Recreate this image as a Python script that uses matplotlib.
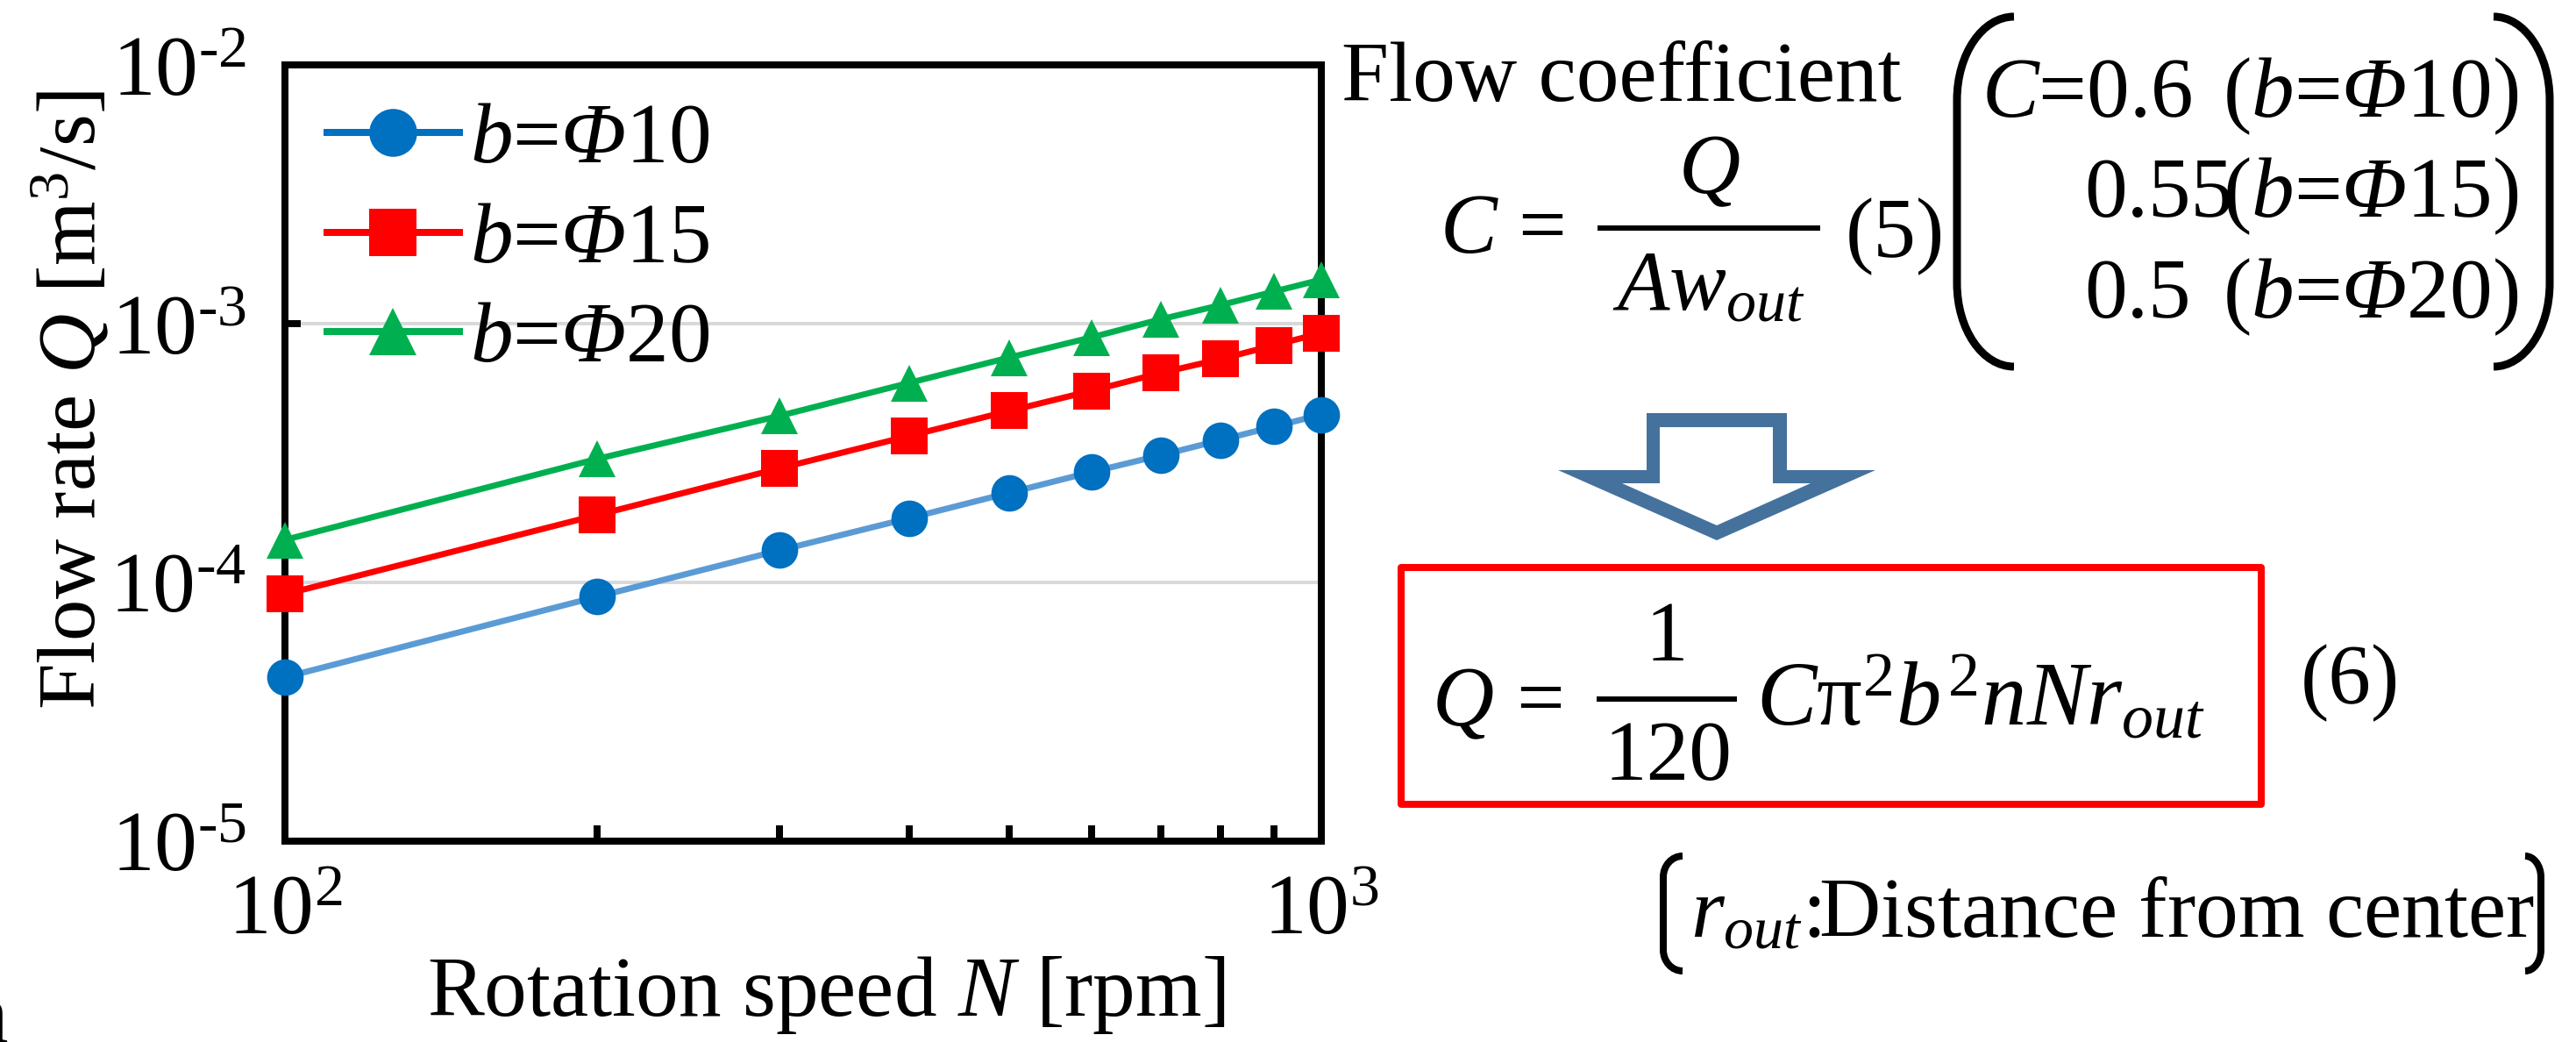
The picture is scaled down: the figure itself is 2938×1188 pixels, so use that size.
import matplotlib
matplotlib.use("Agg")
import math
import matplotlib.pyplot as plt
from matplotlib.path import Path
from matplotlib.patches import PathPatch, Rectangle
from matplotlib.ticker import LogLocator, NullLocator, NullFormatter, FuncFormatter

# ---------------- data ----------------
rotation_speed = [100, 200, 300, 400, 500, 600, 700, 800, 900, 1000]
q_phi10 = [4.3e-5, 8.8e-5, 1.33e-4, 1.77e-4, 2.22e-4, 2.67e-4, 3.10e-4, 3.55e-4, 4.00e-4, 4.45e-4]
q_phi15 = [9.0e-5, 1.82e-4, 2.76e-4, 3.68e-4, 4.60e-4, 5.50e-4, 6.45e-4, 7.30e-4, 8.25e-4, 9.20e-4]
q_phi20 = [1.46e-4, 3.00e-4, 4.40e-4, 5.90e-4, 7.40e-4, 8.85e-4, 1.04e-3, 1.18e-3, 1.33e-3, 1.48e-3]
series_labels = [r"$b$=$\mathsf{\Phi}$10", r"$b$=$\mathsf{\Phi}$15", r"$b$=$\mathsf{\Phi}$20"]
x_label = r"Rotation speed $N$ [rpm]"
y_label = r"Flow rate $Q$ [m$^{3}$/s]"
coef_rows = [r"$C$=0.6", "0.55", "0.5"]
coef_cases = [r"($b$=$\mathsf{\Phi}$10)", r"($b$=$\mathsf{\Phi}$15)", r"($b$=$\mathsf{\Phi}$20)"]

# ---------------- style ----------------
plt.rcParams["font.family"] = ["Liberation Serif", "DejaVu Serif"]
plt.rcParams["mathtext.fontset"] = "custom"
plt.rcParams["mathtext.rm"] = "Liberation Serif"
plt.rcParams["mathtext.it"] = "Liberation Serif:italic"
plt.rcParams["mathtext.bf"] = "Liberation Serif:bold"
plt.rcParams["mathtext.sf"] = "Liberation Serif:italic"
plt.rcParams["axes.unicode_minus"] = False

W, H = 2938, 1188
DPI = 100
PX = 72.0 / DPI  # points per pixel
FS = 70

fig = plt.figure(figsize=(W / DPI, H / DPI), dpi=DPI)
fig.patch.set_facecolor("white")

ax_l, ax_r, ax_t, ax_b = 325, 1507, 74, 959
ax = fig.add_axes([ax_l / W, 1 - ax_b / H, (ax_r - ax_l) / W, (ax_b - ax_t) / H])

ax.plot(rotation_speed, q_phi10, color="#5B9BD5", lw=5, marker="o", ms=30,
        mfc="#0070C0", mec="#0070C0", mew=0, label=series_labels[0], clip_on=False, zorder=3)
ax.plot(rotation_speed, q_phi15, color="#FF0000", lw=5, marker="s", ms=30,
        mfc="#FF0000", mec="#FF0000", mew=0, label=series_labels[1], clip_on=False, zorder=3)
ax.plot(rotation_speed, q_phi20, color="#00B050", lw=5, marker="^", ms=30,
        mfc="#00B050", mec="#00B050", mew=0, label=series_labels[2], clip_on=False, zorder=3)

ax.set_xscale("log")
ax.set_yscale("log")
ax.set_xlim(100, 1000)
ax.set_ylim(1e-5, 1e-2)


def pow_fmt(v, pos):
    e = int(round(math.log10(v)))
    if e < 0:
        return r"$\mathrm{10^{\text{-}%d}}$" % (-e)
    return r"$\mathrm{10^{%d}}$" % e


ax.xaxis.set_major_locator(LogLocator(base=10, numticks=10))
ax.xaxis.set_minor_locator(LogLocator(base=10, subs=range(2, 10), numticks=20))
ax.xaxis.set_minor_formatter(NullFormatter())
ax.xaxis.set_major_formatter(FuncFormatter(pow_fmt))
ax.yaxis.set_major_locator(LogLocator(base=10, numticks=10))
ax.yaxis.set_minor_locator(NullLocator())
ax.yaxis.set_major_formatter(FuncFormatter(pow_fmt))

for s in ax.spines.values():
    s.set_linewidth(8 * PX)
    s.set_zorder(2.5)
ax.tick_params(which="both", direction="in", top=False, right=False,
               width=8 * PX, length=18 * PX, labelsize=FS)
ax.tick_params(axis="x", pad=27)
ax.tick_params(axis="y", pad=32)
ax.set_axisbelow(True)
ax.yaxis.grid(True, which="major", color="#D9D9D9", linewidth=4 * PX)

leg = ax.legend(loc="upper left", bbox_to_anchor=(0.0406, 0.951), frameon=False,
                fontsize=FS, borderpad=0, borderaxespad=0, handlelength=1.55,
                handletextpad=0.13, labelspacing=0.25, markerscale=1.31)
leg.get_lines()[0].set_color("#0070C0")
for ln in leg.get_lines():
    ln.set_linewidth(8 * PX)

# overlay in pixel coordinates for annotations
ov = fig.add_axes([0, 0, 1, 1])
ov.set_xlim(0, W)
ov.set_ylim(H, 0)
ov.axis("off")

ax.set_xlabel(x_label, fontsize=FS)
ax.xaxis.set_label_coords(942, 1158, transform=ov.transData)
ax.xaxis.label.set_verticalalignment("baseline")
ax.set_ylabel(y_label, fontsize=68)
ax.yaxis.set_label_coords(108, 456, transform=ov.transData)
ax.yaxis.label.set_rotation_mode("anchor")
ax.yaxis.label.set_verticalalignment("baseline")
ax.yaxis.label.set_horizontalalignment("center")


def T(x, y, s, ha="left", va="baseline", size=FS, **kw):
    return ov.text(x, y, s, ha=ha, va=va, fontsize=size, **kw)


def hline(x0, x1, y, lw_px=6, color="black"):
    ov.plot([x0, x1], [y, y], color=color, lw=lw_px * PX, solid_capstyle="butt")


def paren(xend, xv, ytop, ybot, ry, lw_px):
    k = 0.5523
    verts = [(xend, ytop), (xend + k * (xv - xend), ytop), (xv, ytop + ry - k * ry), (xv, ytop + ry),
             (xv, ybot - ry), (xv, ybot - ry + k * ry), (xend + k * (xv - xend), ybot), (xend, ybot)]
    codes = [Path.MOVETO, Path.CURVE4, Path.CURVE4, Path.CURVE4, Path.LINETO,
             Path.CURVE4, Path.CURVE4, Path.CURVE4]
    ov.add_patch(PathPatch(Path(verts, codes), fill=False, lw=lw_px * PX,
                           edgecolor="black", capstyle="butt"))


# Flow coefficient block
T(1530, 115, "Flow coefficient")
T(1642, 288, r"$C$")
T(1731, 288, "=")
hline(1822, 2076, 260)
T(1949, 220, r"$Q$", ha="center")
T(1949, 353, r"$Aw_{out}$", ha="center")
T(2105, 293, "(5)")

# cases with large parentheses
paren(2297, 2232, 19, 418, 95, 9)
paren(2844, 2908, 19, 418, 95, 9)
row_base = [133, 247, 362]
row_x = [2260, 2377, 2377]
for rx, rb, left, case in zip(row_x, row_base, coef_rows, coef_cases):
    T(rx, rb, left)
    T(2872, rb, case, ha="right")

# hollow down arrow
outer = [(1878, 471), (2038, 471), (2038, 536), (2139, 536), (1958, 616), (1777, 536), (1878, 536), (1878, 471)]
inner = [(1893, 487), (1893, 551), (1850, 551), (1958, 599), (2065, 551), (2022, 551), (2022, 487), (1893, 487)]
codes = [Path.MOVETO] + [Path.LINETO] * 6 + [Path.CLOSEPOLY]
arrow_path = Path(outer + inner, codes + codes)
ov.add_patch(PathPatch(arrow_path, facecolor="#44729D", edgecolor="none"))

# red box with result formula
ov.add_patch(Rectangle((1598, 647), 2579 - 1598, 917 - 647, fill=False,
                       edgecolor="#FF0000", lw=8 * PX, joinstyle="round"))
T(1633, 827, r"$Q$")
T(1729, 827, "=")
hline(1821, 1981, 797)
T(1901, 753, "1", ha="center")
T(1903, 889, "120", ha="center")
T(2003, 827, r"$C\mathrm{\pi}^{2}b^{2}nNr_{out}$", size=74)
T(2624, 802, "(6)")

# bottom note with brackets
paren(1919, 1897, 976, 1107, 24, 8)
paren(2880, 2898, 976, 1107, 24, 8)
T(1928, 1068, r"$r_{out}$:Distance from center", size=70)

# cropped glyph fragment at the bottom-left corner
T(9, 1187, "n", ha="right")

fig.savefig("out.png", dpi=DPI)
